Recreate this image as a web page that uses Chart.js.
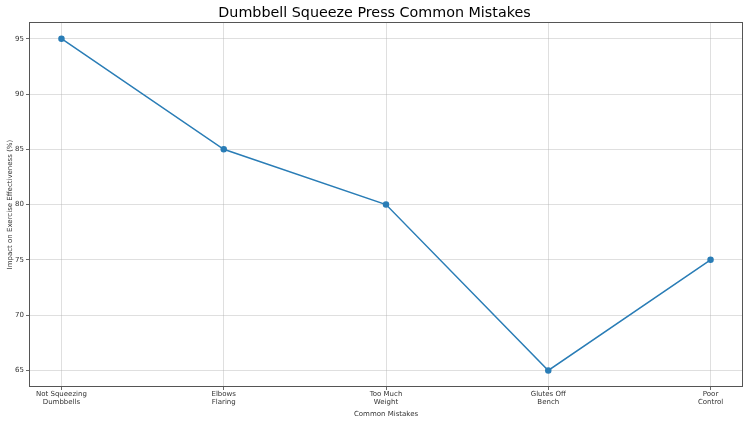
<!DOCTYPE html>
<html>
<head>
<meta charset="utf-8">
<script src="https://cdn.jsdelivr.net/npm/chart.js@4.4.0/dist/chart.umd.min.js"></script>
<style>
  html, body { margin: 0; padding: 0; background: #fff; }
  #wrap { width: 750px; height: 422px; }
</style>
</head>
<body>
<div id="wrap"><canvas id="chart" width="750" height="422"></canvas></div>
<script>
const mistakes = [
  ['Not Squeezing', 'Dumbbells'],
  ['Elbows', 'Flaring'],
  ['Too Much', 'Weight'],
  ['Glutes Off', 'Bench'],
  ['Poor', 'Control']
];
const impact = [95, 85, 80, 65, 75];
const yTicks = [65, 70, 75, 80, 85, 90, 95];

const font = "'DejaVu Sans', sans-serif";
const gridColor = 'rgba(176,176,176,0.5)';
const lineColor = '#2a7db6';
const spineColor = '#555';

// matplotlib-style full frame around the plot area
const frame = {
  id: 'frame',
  afterDraw(chart) {
    const { ctx, chartArea: a } = chart;
    ctx.save();
    ctx.strokeStyle = spineColor;
    ctx.lineWidth = 1;
    ctx.strokeRect(Math.round(a.left) + 0.5, Math.round(a.top) + 0.5,
      Math.round(a.right - a.left) - 1, Math.round(a.bottom - a.top) - 1);
    ctx.restore();
  }
};

const ctx = document.getElementById('chart');
new Chart(ctx, {
  type: 'line',
  data: {
    datasets: [{
      data: impact.map((v, i) => ({ x: i, y: v })),
      borderColor: lineColor,
      backgroundColor: lineColor,
      borderWidth: 1.5,
      pointRadius: 2.5,
      pointHoverRadius: 2.5,
      tension: 0
    }]
  },
  options: {
    responsive: false,
    animation: false,
    layout: { padding: { left: 6, right: 7, top: 0, bottom: 4 } },
    plugins: {
      legend: { display: false },
      tooltip: { enabled: false },
      title: {
        display: true,
        text: 'Dumbbell Squeeze Press Common Mistakes',
        color: '#000',
        font: { family: font, size: 14.3, weight: 'normal' },
        padding: { top: 5, bottom: 0 }
      }
    },
    scales: {
      x: {
        type: 'linear',
        min: -0.2,
        max: 4.2,
        afterBuildTicks: axis => { axis.ticks = mistakes.map((_, i) => ({ value: i })); },
        ticks: {
          callback: v => mistakes[v],
          color: '#333',
          font: { family: font, size: 7, lineHeight: 1.15 },
          padding: 0,
          maxRotation: 0,
          autoSkip: false
        },
        grid: { color: gridColor, lineWidth: 0.8, tickLength: 3, tickColor: '#444' },
        border: { display: false },
        title: {
          display: true,
          text: 'Common Mistakes',
          color: '#333',
          font: { family: font, size: 7 },
          padding: { top: 0, bottom: 0 }
        },
        afterFit: axis => { axis.height = 31; }
      },
      y: {
        min: 63.5,
        max: 96.5,
        afterBuildTicks: axis => { axis.ticks = yTicks.map(v => ({ value: v })); },
        ticks: {
          color: '#333',
          font: { family: font, size: 7 },
          padding: 2
        },
        grid: { color: gridColor, lineWidth: 0.8, tickLength: 3, tickColor: '#444' },
        border: { display: false },
        title: {
          display: true,
          text: 'Impact on Exercise Effectiveness (%)',
          color: '#333',
          font: { family: font, size: 7 },
          padding: { top: 0, bottom: 1 }
        },
        afterFit: axis => { axis.width = 23; }
      }
    }
  },
  plugins: [frame]
});
</script>
</body>
</html>
